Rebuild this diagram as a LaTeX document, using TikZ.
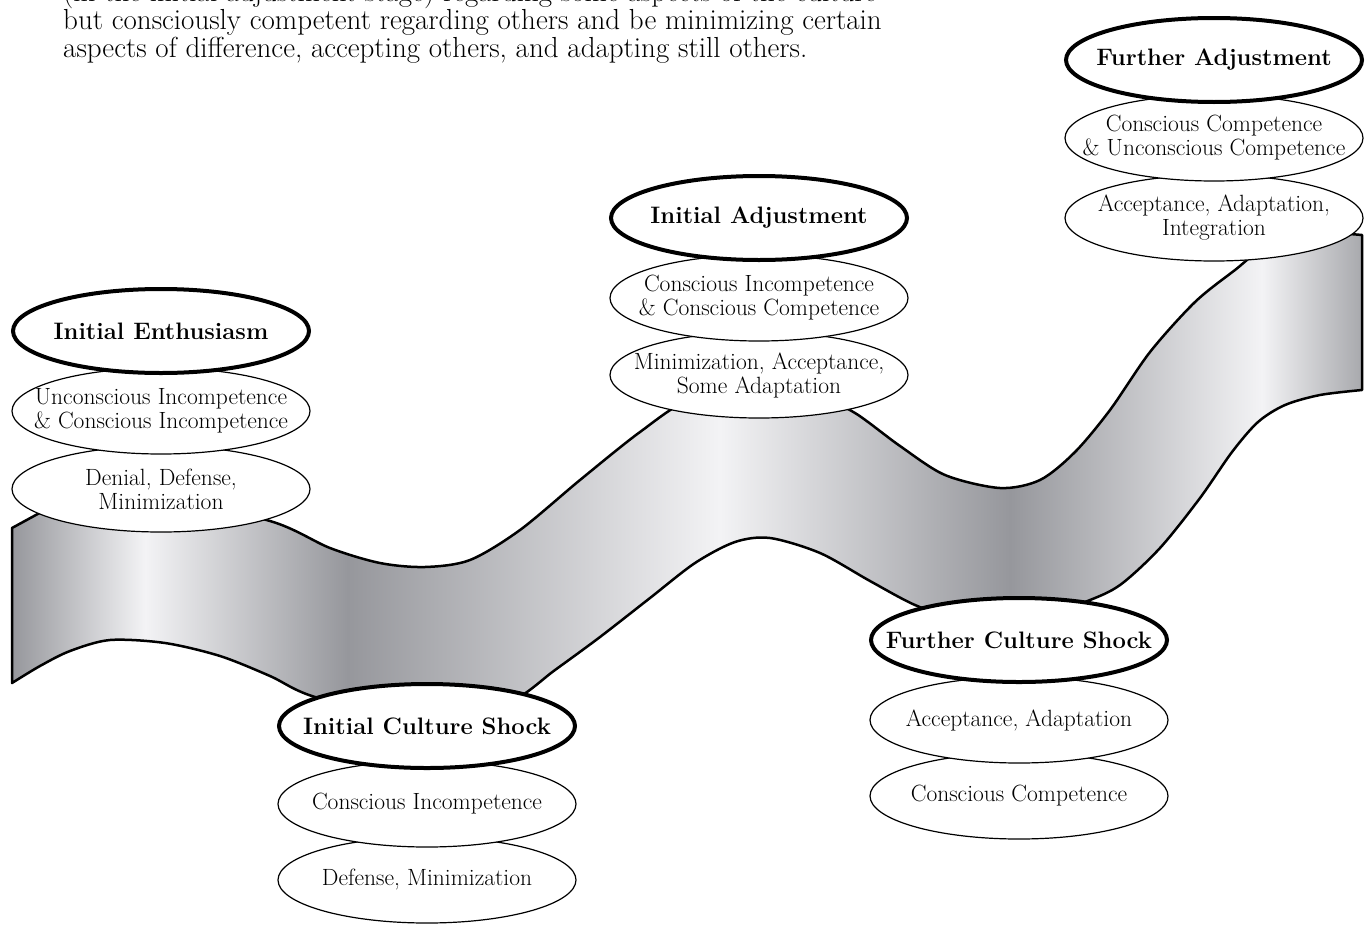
\documentclass[tikz,border=0pt]{standalone}
\usetikzlibrary{shapes.geometric}
\definecolor{ribbondark}{RGB}{150,151,156}
\definecolor{ribbonlight}{RGB}{243,243,245}
\definecolor{ribbonmid}{RGB}{168,169,173}
\pgfdeclarehorizontalshading{ribbonshade}{100bp}{color(0bp)=(ribbondark); color(25bp)=(ribbondark);
  color(29.93bp)=(ribbonlight); color(37.44bp)=(ribbondark); color(51.22bp)=(ribbonlight);
  color(61.96bp)=(ribbondark); color(71.3bp)=(ribbonlight); color(75bp)=(ribbonmid); color(100bp)=(ribbonmid)}

\begin{document}
\begin{tikzpicture}[x=1pt, y=-1pt]
\tikzset{
  head/.style={ellipse, draw, line width=4pt, fill=white, minimum width=296pt, minimum height=84pt},
  sub/.style={ellipse, draw, line width=1.2pt, fill=white, minimum width=298pt, minimum height=86pt},
  headtxt/.style={font=\fontsize{23.8}{28}\selectfont\bfseries},
  subtxt/.style={align=center, font=\fontsize{23.5}{24}\selectfont}
}
\useasboundingbox (0,0) rectangle (1372,926);
\fill[white] (0,0) rectangle (1372,926);
\clip (0,0) rectangle (1372,926);

% text above the figure
\node[anchor=base west, align=left, inner sep=0pt, font=\fontsize{29}{23}\selectfont] (intro) at (63,57)
  {(in the initial adjustment stage) regarding some aspects of the culture\\
   but consciously competent regarding others and be minimizing certain\\
   aspects of difference, accepting others, and adapting still others.};

% the ribbon
\draw[line width=2.5pt, line join=round, shading=ribbonshade]
  (12,528) -- plot[smooth] coordinates {(45,510) (150,496) (270,521) (330,548) (380,563) (425,567)
    (470,560) (520,530) (580,480) (640,432) (690,400) (760,392) (820,398) (855,413) (900,446)
    (945,475) (1000,488) (1040,480) (1075,452) (1110,410) (1150,352) (1195,302) (1235,270)
    (1265,248) (1320,234) (1362,235)}
  -- plot[smooth] coordinates {(1362,390) (1320,395) (1285,405) (1258,422) (1232,452) (1200,498)
    (1160,548) (1120,585) (1085,602) (1020,625) (960,620) (915,605) (870,581) (820,553) (770,538)
    (735,542) (695,563) (650,598) (600,637) (555,670) (510,702) (430,725) (315,697) (270,676)
    (220,656) (165,643) (110,640) (70,651) (40,666) (12,683)}
  -- cycle;

% Initial Enthusiasm
\node[sub] (ie3) at (161,489) {};
\node[subtxt] (ie3t) at (ie3) {Denial, Defense,\\Minimization};
\node[sub] (ie2) at (161,411) {};
\node[subtxt] (ie2t) at (ie2) {Unconscious Incompetence\\\& Conscious Incompetence};
\node[head] (ie1) at (161,331) {};
\node[headtxt] (ie1t) at (ie1) {Initial Enthusiasm};

% Initial Culture Shock
\node[sub] (ics3) at (427,880) {};
\node[subtxt] (ics3t) at (ics3) {Defense, Minimization};
\node[sub] (ics2) at (427,804) {};
\node[subtxt] (ics2t) at (ics2) {Conscious Incompetence};
\node[head] (ics1) at (427,726) {};
\node[headtxt] (ics1t) at (ics1) {Initial Culture Shock};

% Initial Adjustment
\node[sub] (ia3) at (759,375) {};
\node[subtxt] (ia3t) at (ia3) {Minimization, Acceptance,\\Some Adaptation};
\node[sub] (ia2) at (759,298) {};
\node[subtxt] (ia2t) at (ia2) {Conscious Incompetence\\\& Conscious Competence};
\node[head] (ia1) at (759,218) {};
\node[headtxt] (ia1t) at (ia1) {Initial Adjustment};

% Further Culture Shock
\node[sub] (fcs3) at (1019,796) {};
\node[subtxt] (fcs3t) at (fcs3) {Conscious Competence};
\node[sub] (fcs2) at (1019,720) {};
\node[subtxt] (fcs2t) at (fcs2) {Acceptance, Adaptation};
\node[head] (fcs1) at (1019,640) {};
\node[headtxt] (fcs1t) at (fcs1) {Further Culture Shock};

% Further Adjustment
\node[sub] (fa3) at (1214,218) {};
\node[subtxt] (fa3t) at (fa3) {Acceptance, Adaptation,\\Integration};
\node[sub] (fa2) at (1214,138) {};
\node[subtxt] (fa2t) at (fa2) {Conscious Competence\\\& Unconscious Competence};
\node[head] (fa1) at (1214,60) {};
\node[headtxt] (fa1t) at (fa1) {Further Adjustment};
\end{tikzpicture}
\end{document}
